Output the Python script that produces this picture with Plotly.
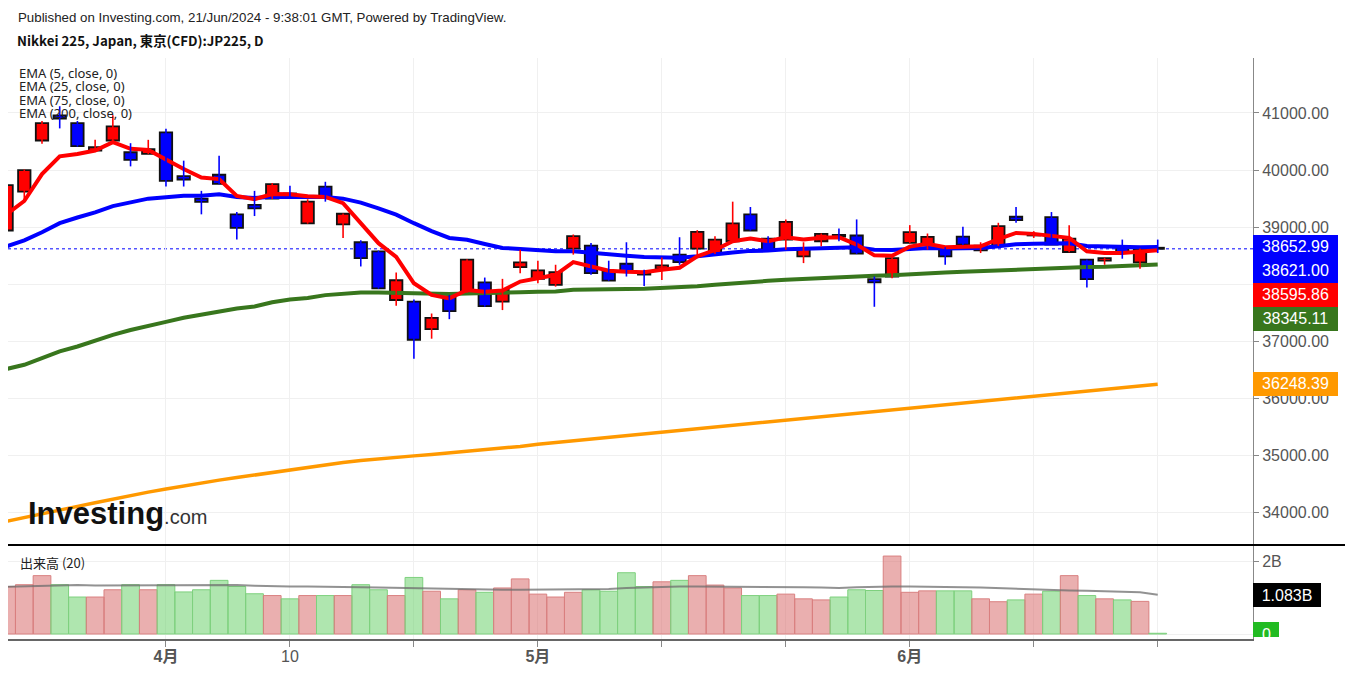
import plotly.graph_objects as go

# ---------------- data ----------------
dates = [
    "2024-03-18", "2024-03-19", "2024-03-21", "2024-03-22", "2024-03-25", "2024-03-26", "2024-03-27",
    "2024-03-28", "2024-03-29",
    "2024-04-01", "2024-04-02", "2024-04-03", "2024-04-04", "2024-04-05", "2024-04-08", "2024-04-09",
    "2024-04-10", "2024-04-11", "2024-04-12", "2024-04-15", "2024-04-16", "2024-04-17", "2024-04-18",
    "2024-04-19", "2024-04-22", "2024-04-23", "2024-04-24", "2024-04-25", "2024-04-26", "2024-04-30",
    "2024-05-01", "2024-05-02", "2024-05-07", "2024-05-08", "2024-05-09", "2024-05-10", "2024-05-13",
    "2024-05-14", "2024-05-15", "2024-05-16", "2024-05-17", "2024-05-20", "2024-05-21", "2024-05-22",
    "2024-05-23", "2024-05-24", "2024-05-27", "2024-05-28", "2024-05-29", "2024-05-30", "2024-05-31",
    "2024-06-03", "2024-06-04", "2024-06-05", "2024-06-06", "2024-06-07", "2024-06-10", "2024-06-11",
    "2024-06-12", "2024-06-13", "2024-06-14", "2024-06-17", "2024-06-18", "2024-06-19", "2024-06-20",
    "2024-06-21",
]

open_ = [38942, 39624, 40518, 40959, 40823, 40342, 40518, 40312, 40283, 40659,
         39895, 39500, 39918, 39225, 39389, 39500, 39590, 39066, 39712, 39048,
         38736, 38577, 37725, 37695, 37213, 37783, 37854, 38035, 37695, 38300,
         38095, 37990, 38625, 38678, 38230, 38360, 38200, 38272, 38519, 38625,
         38536, 38754, 39225, 38801, 38783, 38489, 38754, 38865, 38854, 38089,
         38136, 38724, 38695, 38648, 38836, 38595, 38678, 39183, 38855, 39177,
         38565, 38431, 38413, 38648, 38383, 38640]
close = [39736, 40001, 40823, 40901, 40418, 40400, 40765, 40178, 40365, 39812,
         39835, 39442, 39759, 38988, 39331, 39754, 39575, 39447, 39518, 39235,
         38459, 37929, 38071, 37029, 37412, 37531, 38431, 37619, 37901, 38383,
         38242, 38212, 38842, 38194, 38065, 38224, 38170, 38330, 38389, 38918,
         38783, 39066, 38942, 38595, 39094, 38619, 38883, 38835, 38536, 38035,
         38459, 38912, 38830, 38489, 38695, 38678, 39018, 39124, 38870, 38695,
         38801, 38089, 38459, 38565, 38619, 38621.00]
high = [39760, 40010, 40859, 41118, 40860, 40530, 40959, 40471, 40530, 40724,
        40165, 39636, 40253, 39265, 39636, 39772, 39724, 39489, 39795, 39240,
        38771, 38590, 38206, 37735, 37488, 37813, 38440, 38118, 38095, 38607,
        38413, 38342, 38872, 38724, 38413, 38736, 38254, 38471, 38824, 38948,
        38842, 39447, 39354, 38842, 39136, 38736, 38890, 38978, 39136, 38136,
        38465, 39036, 38889, 38650, 39006, 38736, 39077, 39354, 38930, 39265,
        39036, 38435, 38465, 38783, 38625, 38783]
low = [38920, 39459, 40460, 40730, 40410, 40330, 40488, 40065, 40280, 39712,
       39712, 39225, 39750, 38784, 39195, 39495, 39518, 39060, 39447, 38812,
       38312, 37920, 37624, 36694, 37047, 37389, 37850, 37606, 37548, 38194,
       38018, 37959, 38519, 38166, 38060, 38136, 37972, 38077, 38342, 38519,
       38530, 38724, 38940, 38590, 38607, 38371, 38665, 38754, 38530, 37606,
       38106, 38720, 38607, 38342, 38690, 38547, 38670, 39077, 38812, 38690,
       38560, 37942, 38342, 38448, 38271, 38547]

ema5 = [39225, 39459, 39930, 40242, 40283, 40342, 40488, 40372, 40354, 40177,
        40018, 39871, 39842, 39548, 39489, 39580, 39578, 39540, 39530, 39420,
        39080, 38720, 38480, 38018, 37813, 37753, 37900, 37870, 37890, 38048,
        38106, 38166, 38389, 38312, 38236, 38220, 38212, 38254, 38290, 38489,
        38600, 38754, 38801, 38754, 38824, 38783, 38813, 38824, 38695, 38507,
        38500, 38660, 38710, 38648, 38665, 38665, 38790, 38900, 38883, 38842,
        38813, 38577, 38547, 38547, 38565, 38595.86]
ema25 = [38665, 38770, 38910, 39070, 39170, 39260, 39370, 39440, 39500, 39525,
         39550, 39550, 39575, 39530, 39510, 39535, 39535, 39530, 39528, 39500,
         39430, 39330, 39220, 39070, 38930, 38812, 38780, 38706, 38636, 38620,
         38600, 38580, 38580, 38550, 38520, 38500, 38480, 38470, 38465, 38490,
         38515, 38555, 38585, 38590, 38615, 38625, 38640, 38655, 38648, 38607,
         38600, 38620, 38635, 38625, 38630, 38635, 38665, 38700, 38712, 38712,
         38718, 38670, 38658, 38652, 38650, 38652.99]
ema75 = [36518, 36590, 36705, 36825, 36910, 37015, 37115, 37200, 37280, 37342,
         37415, 37470, 37530, 37577, 37610, 37685, 37733, 37760, 37810, 37836,
         37858, 37858, 37850, 37832, 37828, 37828, 37840, 37842, 37845, 37860,
         37871, 37875, 37905, 37915, 37915, 37918, 37920, 37930, 37942, 37965,
         37990, 38018, 38040, 38060, 38080, 38095, 38115, 38135, 38145, 38150,
         38160, 38180, 38195, 38208, 38218, 38230, 38242, 38258, 38272, 38288,
         38302, 38304, 38308, 38318, 38332, 38345.11]
ema200 = [33848, 33910, 33975, 34045, 34110, 34175, 34240, 34300, 34360, 34415,
          34470, 34520, 34570, 34615, 34660, 34710, 34755, 34795, 34840, 34880,
          34915, 34945, 34975, 34995, 35020, 35045, 35075, 35100, 35125, 35160,
          35200, 35230, 35260, 35290, 35320, 35350, 35380, 35410, 35440, 35470,
          35500, 35530, 35560, 35590, 35620, 35650, 35680, 35710, 35740, 35770,
          35800, 35830, 35860, 35890, 35920, 35950, 35980, 36010, 36040, 36070,
          36100, 36130, 36160, 36190, 36220, 36248.39]

volume_b = [1.31, 1.36, 1.61, 1.36, 1.02, 1.02, 1.22, 1.36, 1.22, 1.36,
            1.16, 1.22, 1.48, 1.31, 1.11, 1.06, 0.97, 1.06, 1.06, 1.06,
            1.36, 1.22, 1.06, 1.56, 1.18, 0.97, 1.22, 1.15, 1.27, 1.52,
            1.10, 1.02, 1.15, 1.22, 1.18, 1.69, 1.31, 1.44, 1.48, 1.61,
            1.35, 1.27, 1.06, 1.06, 1.10, 0.97, 0.94, 1.02, 1.22, 1.20,
            2.15, 1.15, 1.19, 1.19, 1.19, 0.97, 0.89, 0.94, 1.10, 1.18,
            1.61, 1.06, 0.97, 0.94, 0.90, 0.02]
volume_ma_b = [1.30, 1.31, 1.33, 1.35, 1.35, 1.34, 1.34, 1.34, 1.35, 1.35,
               1.34, 1.34, 1.36, 1.35, 1.33, 1.31, 1.31, 1.31, 1.31, 1.30,
               1.29, 1.28, 1.27, 1.26, 1.25, 1.23, 1.22, 1.22, 1.22, 1.22,
               1.22, 1.22, 1.22, 1.23, 1.24, 1.27, 1.29, 1.30, 1.31, 1.31,
               1.31, 1.31, 1.31, 1.31, 1.30, 1.29, 1.28, 1.27, 1.29, 1.31,
               1.31, 1.31, 1.31, 1.30, 1.29, 1.28, 1.26, 1.24, 1.22, 1.21,
               1.20, 1.19, 1.17, 1.16, 1.15, 1.083]

tick_dates = ["2024-04-01", "2024-04-10", "2024-04-19", "2024-05-01", "2024-05-14",
              "2024-05-23", "2024-06-03", "2024-06-12", "2024-06-21"]
tick_text = ["<b>4月</b>", "10", "", "<b>5月</b>", "", "", "<b>6月</b>", "", ""]
price_ticks = [34000, 35000, 36000, 37000, 38000, 39000, 40000, 41000]
ema_names = ["EMA (5, close, 0)", "EMA (25, close, 0)", "EMA (75, close, 0)", "EMA (200, close, 0)"]

# ---------------- layout geometry ----------------
W, H = 1345, 673
ML, MR, MT, MB = 8, 92, 58, 34
plot_h = H - MT - MB
plot_w = W - ML - MR
SEP = 545
vol_frac = (H - MB - SEP) / plot_h
price_range = [33434, 41963]
vol_range = [-0.138e9, 2.455e9]
x_range = [0.08, 70.38]

UP, DOWN = "#FF0000", "#0000FF"
C_EMA = {"5": "#FF0000", "25": "#0000FF", "75": "#38761D", "200": "#FF9900"}
GRID = "#F0F0F0"
AX = "#888888"
FONT = "Liberation Sans, Arial, sans-serif"
NFONT = "Noto Sans, Noto Sans CJK JP, sans-serif"


def ppx(px):
    return (px - ML) / plot_w


def ppy(py):
    return (H - MB - py) / plot_h


def price_to_px(v):
    return MT + (price_range[1] - v) / (price_range[1] - price_range[0]) * (SEP - MT)


def px_to_price(py):
    return price_range[1] - (py - MT) / (SEP - MT) * (price_range[1] - price_range[0])


fig = go.Figure()

# volume bars
is_up = [c >= o for o, c in zip(open_, close)]
vol = [v * 1e9 for v in volume_b]
fig.add_trace(go.Bar(
    x=dates, y=vol, xaxis="x2", yaxis="y2", width=1.0,
    marker=dict(color=["rgba(214,96,96,0.5)" if u else "rgba(110,210,110,0.55)" for u in is_up],
                line=dict(color=["#D98080" if u else "#7ED07E" for u in is_up], width=1)),
    hoverinfo="skip", showlegend=False))
fig.add_trace(go.Scatter(
    x=dates, y=[v * 1e9 for v in volume_ma_b], xaxis="x2", yaxis="y2", mode="lines",
    line=dict(color="rgba(110,110,110,0.75)", width=2), hoverinfo="skip", showlegend=False))

# EMA lines
for vals, key, w in [(ema200, "200", 3.5), (ema75, "75", 4), (ema25, "25", 4), (ema5, "5", 4)]:
    fig.add_trace(go.Scatter(x=dates, y=vals, mode="lines", line=dict(color=C_EMA[key], width=w),
                             hoverinfo="skip", showlegend=False))

# wicks
for up_flag, col in [(True, UP), (False, DOWN)]:
    wx, wy = [], []
    for d, h, l, u in zip(dates, high, low, is_up):
        if u == up_flag:
            wx += [d, d, None]
            wy += [l, h, None]
    fig.add_trace(go.Scatter(x=wx, y=wy, mode="lines", line=dict(color=col, width=1.6),
                             hoverinfo="skip", showlegend=False))

# bodies
fig.add_trace(go.Bar(
    x=dates, y=[abs(c - o) for o, c in zip(open_, close)],
    base=[min(o, c) for o, c in zip(open_, close)], width=0.7,
    marker=dict(color=[UP if u else DOWN for u in is_up], line=dict(color="#111111", width=1.8)),
    hoverinfo="skip", showlegend=False))

shapes = [
    dict(type="line", xref="x domain", x0=0, x1=1, yref="y", y0=close[-1], y1=close[-1],
         line=dict(color="#0000FF", width=1, dash="dot"), layer="below"),
    dict(type="line", xref="paper", x0=ppx(ML), x1=ppx(W), yref="paper", y0=vol_frac, y1=vol_frac,
         line=dict(color="#000000", width=2)),
    dict(type="rect", xref="paper", x0=1, x1=ppx(1279), yref="paper", y0=ppy(637), y1=ppy(622),
         fillcolor="#22BB22", line=dict(width=0)),
]

annotations = [
    dict(text="Published on Investing.com, 21/Jun/2024 - 9:38:01 GMT, Powered by TradingView.",
         xref="paper", yref="paper", x=ppx(16), y=ppy(17), xanchor="left", yanchor="middle",
         showarrow=False, font=dict(family=FONT, size=13.3, color="#222222")),
    dict(text="<b>Nikkei 225, Japan, 東京(CFD):JP225, D</b>",
         xref="paper", yref="paper", x=ppx(15), y=ppy(40), xanchor="left", yanchor="middle",
         showarrow=False, font=dict(family="Noto Sans CJK JP, Noto Sans, sans-serif", size=13.3, color="#111111")),
    dict(text="出来高 (20)", xref="paper", yref="paper", x=ppx(18), y=ppy(562), xanchor="left",
         yanchor="middle", showarrow=False,
         font=dict(family="Noto Sans CJK JP, Noto Sans, sans-serif", size=13, color="#222222")),
    dict(text="<b>Investing</b><span style='font-size:20px;color:#333'>.com</span>",
         xref="paper", yref="paper", x=ppx(26), y=ppy(513), xanchor="left", yanchor="middle",
         showarrow=False, font=dict(family=FONT, size=31, color="#111111")),
]
for i, name in enumerate(ema_names):
    annotations.append(dict(text=name, xref="paper", yref="paper", x=ppx(17), y=ppy(72.7 + 13.5 * i),
                            xanchor="left", yanchor="middle", showarrow=False,
                            font=dict(family=NFONT, size=13, color="#222222")))

# right-side value labels (stacked so they don't overlap)
labels = [(ema25[-1], "#0000FF"), (close[-1], "#0000FF" if not is_up[-1] else "#FF0000"),
          (ema5[-1], "#FF0000"), (ema75[-1], "#38761D"), (ema200[-1], "#FF9900")]
labels.sort(key=lambda t: -t[0])
prev = None
for v, col in labels:
    py = price_to_px(v)
    if prev is not None and py < prev + 24:
        py = prev + 24
    prev = py
    annotations.append(dict(text="%.2f" % v, xref="paper", yref="y", x=1, y=px_to_price(py),
                            xanchor="left", yanchor="middle", showarrow=False, width=81, height=19.5,
                            borderpad=2, borderwidth=0, bgcolor=col, align="center",
                            font=dict(family=FONT, size=16, color="#FFFFFF")))
annotations.append(dict(text="%.3fB" % volume_ma_b[-1], xref="paper", yref="y2", x=1,
                        y=volume_ma_b[-1] * 1e9, xanchor="left", yanchor="middle", showarrow=False,
                        width=64, height=20, borderpad=2, borderwidth=0, bgcolor="#000000",
                        font=dict(family=FONT, size=16, color="#FFFFFF")))
annotations.append(dict(text="0", xref="paper", yref="paper", x=ppx(1266), y=ppy(634),
                        xanchor="center", yanchor="middle", showarrow=False,
                        font=dict(family=FONT, size=16, color="#FFFFFF")))

fig.update_layout(
    width=W, height=H, margin=dict(l=ML, r=MR, t=MT, b=MB, autoexpand=False),
    paper_bgcolor="white", plot_bgcolor="white", showlegend=False, hovermode=False,
    barmode="overlay",
    xaxis=dict(domain=[0, 1], anchor="y", type="category", range=x_range, tickvals=tick_dates,
               ticktext=tick_text, showticklabels=False, ticks="", showgrid=True, gridcolor=GRID,
               showline=False, zeroline=False, automargin=False),
    yaxis=dict(domain=[vol_frac, 1], anchor="x", side="right", range=price_range,
               tickvals=price_ticks, ticktext=["%.2f" % t for t in price_ticks],
               tickfont=dict(family=FONT, size=16, color="#555555"), ticks="outside", ticklen=5,
               tickcolor=AX, showline=True, linecolor=AX, linewidth=1, showgrid=True, gridcolor=GRID,
               zeroline=False, automargin=False),
    xaxis2=dict(domain=[0, 1], anchor="y2", type="category", matches="x", range=x_range,
                tickvals=tick_dates, ticktext=tick_text,
                tickfont=dict(family="Liberation Sans, Noto Sans CJK JP, sans-serif", size=16, color="#555555"),
                ticks="outside", ticklen=6, tickcolor=AX, showline=True, linecolor="#666666",
                linewidth=1.5, showgrid=True, gridcolor=GRID, zeroline=False, automargin=False,
                ticklabelstandoff=-4),
    yaxis2=dict(domain=[0, vol_frac], anchor="x2", side="right", range=vol_range,
                tickvals=[0, 2e9], ticktext=["", "2B"],
                tickfont=dict(family=FONT, size=16, color="#555555"), ticks="outside", ticklen=5,
                tickcolor=AX, showline=True, linecolor=AX, linewidth=1, showgrid=True, gridcolor=GRID,
                zeroline=False, automargin=False),
    shapes=shapes, annotations=annotations,
)

fig.write_html("out.html", config={"displayModeBar": False},
               post_script="document.body.style.margin='0';document.body.style.overflow='hidden';")
